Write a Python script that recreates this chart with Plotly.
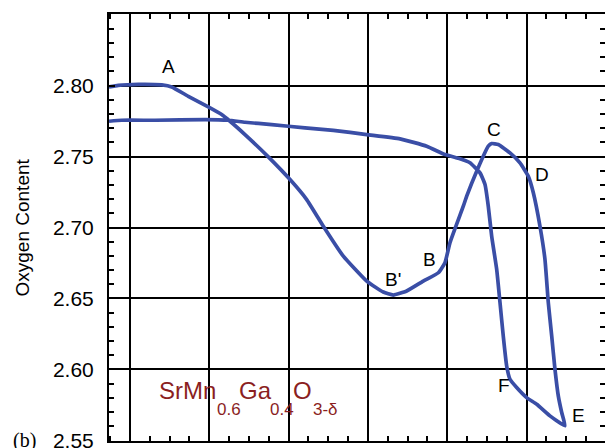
import plotly.graph_objects as go

# ---- data ----
x_path = [0.735, 0.852, 1.105, 1.400, 1.526, 1.735, 1.987, 2.156, 2.261, 2.450,
          2.744, 3.018, 3.228, 3.438, 3.690, 3.985, 4.194, 4.320, 4.489, 4.698,
          4.888, 4.972, 5.035, 5.203, 5.246, 5.372, 5.518, 5.561, 5.644, 5.792,
          5.918, 6.023, 6.086, 6.170, 6.233, 6.275, 6.318, 6.359, 6.401, 6.444,
          6.485, 6.296, 6.129, 6.002, 5.876, 5.792, 5.750, 5.707, 5.666, 5.624,
          5.561, 5.518, 5.477, 5.414, 5.287, 5.161, 4.972, 4.741, 4.405, 3.985,
          3.564, 3.207, 2.787, 2.450, 2.240, 1.946, 1.315, 0.895, 0.735]
y_path = [2.7991, 2.8002, 2.8009, 2.8005, 2.7991, 2.7925, 2.7850, 2.7796, 2.7749, 2.7655,
          2.7498, 2.7338, 2.7197, 2.7009, 2.6798, 2.6622, 2.6545, 2.6524, 2.6552, 2.6622,
          2.6681, 2.6752, 2.6893, 2.7150, 2.7221, 2.7397, 2.7573, 2.7592, 2.7585, 2.7526,
          2.7456, 2.7361, 2.7245, 2.7009, 2.6775, 2.6470, 2.6235, 2.6001, 2.5813, 2.5696,
          2.5602, 2.5672, 2.5754, 2.5801, 2.5872, 2.5930, 2.6024, 2.6235, 2.6470, 2.6705,
          2.6939, 2.7150, 2.7303, 2.7385, 2.7456, 2.7484, 2.7514, 2.7573, 2.7625, 2.7655,
          2.7685, 2.7702, 2.7725, 2.7742, 2.7756, 2.7761, 2.7756, 2.7756, 2.7749]

point_labels = ["A", "B'", "B", "C", "D", "E", "F"]
label_x = [1.48, 4.32, 4.78, 5.594, 6.20, 6.662, 5.716]
label_y = [2.8134, 2.6634, 2.6775, 2.769, 2.7373, 2.5672, 2.5883]

y_tickvals = [2.55, 2.60, 2.65, 2.70, 2.75, 2.80]
x_tickvals = [1, 2, 3, 4, 5, 6]

formula_main = ["SrMn", "Ga", "O"]
formula_sub = ["0.6", "0.4", "3-δ"]

# ---- layout geometry ----
W, H = 605, 448
PL, PR, PT, PB = 109, 605, 14, 441
XR = [0.735, 6.99]
YR = [2.5495, 2.8505]


def px_x(px):
    return (px - PL) / (PR - PL)


def px_y(py):
    return (PB - py) / (PB - PT)


BLUE = "#3a4ea6"
RED = "#8b1f1f"
FONT = "Liberation Sans, Arial, sans-serif"

fig = go.Figure()
fig.add_trace(go.Scatter(
    x=x_path, y=y_path, mode="lines",
    line=dict(color=BLUE, width=3.7, shape="spline", smoothing=0.4),
    showlegend=False, hoverinfo="skip"))

annotations = []
for t, lx, ly in zip(point_labels, label_x, label_y):
    annotations.append(dict(x=lx, y=ly, xref="x", yref="y", text=t, showarrow=False,
                            font=dict(family=FONT, size=19, color="black"),
                            xanchor="center", yanchor="middle"))

# formula pieces (main text and lowered subscripts)
main_left = [158, 238, 292]
sub_left = [216, 269, 312]
for t, lp in zip(formula_main, main_left):
    annotations.append(dict(x=px_x(lp), y=px_y(390.5), xref="paper", yref="paper", text=t,
                            showarrow=False, xanchor="left", yanchor="middle",
                            font=dict(family=FONT, size=24, color=RED), borderpad=0))
for t, lp in zip(formula_sub, sub_left):
    annotations.append(dict(x=px_x(lp), y=px_y(409), xref="paper", yref="paper", text=t,
                            showarrow=False, xanchor="left", yanchor="middle",
                            font=dict(family=FONT, size=17, color=RED), borderpad=0))

# y title and panel label
annotations.append(dict(x=px_x(22), y=0.5, xref="paper", yref="paper", text="Oxygen Content",
                        showarrow=False, textangle=-90, xanchor="center", yanchor="middle",
                        font=dict(family=FONT, size=19, color="black")))
annotations.append(dict(x=px_x(24), y=px_y(440), xref="paper", yref="paper", text="(b)",
                        showarrow=False, xanchor="center", yanchor="middle",
                        font=dict(family="Liberation Serif, Times New Roman, serif", size=20,
                                  color="black")))

shapes = [dict(type="rect", xref="paper", yref="paper", layer="between",
               x0=px_x(136), x1=px_x(358), y0=px_y(420), y1=px_y(363),
               fillcolor="white", line=dict(width=0))]

axis_common = dict(showline=True, linecolor="black", linewidth=2, mirror="allticks",
                   showgrid=True, gridcolor="black", gridwidth=2, zeroline=False,
                   ticks="inside", ticklen=6, tickwidth=2, tickcolor="black",
                   automargin=False)

fig.update_layout(
    width=W, height=H,
    margin=dict(l=PL, r=W - PR, t=PT, b=H - PB, pad=0),
    paper_bgcolor="white", plot_bgcolor="white",
    font=dict(family=FONT, color="black"),
    xaxis=dict(range=XR, tickvals=x_tickvals, showticklabels=False,
               minor=dict(dtick=0.25, tick0=0, ticks="inside", ticklen=5, tickwidth=1.5,
                          tickcolor="black", showgrid=False),
               **axis_common),
    yaxis=dict(range=YR, tickvals=y_tickvals, ticktext=[f"{v:.2f}" for v in y_tickvals],
               tickfont=dict(family=FONT, size=21, color="black"), ticklabelstandoff=9,
               ticklabeloverflow="allow",
               minor=dict(dtick=0.01, tick0=2.55, ticks="inside", ticklen=5, tickwidth=1.5,
                          tickcolor="black", showgrid=False),
               **axis_common),
    annotations=annotations,
    shapes=shapes,
)

fig.write_html("out.html")
